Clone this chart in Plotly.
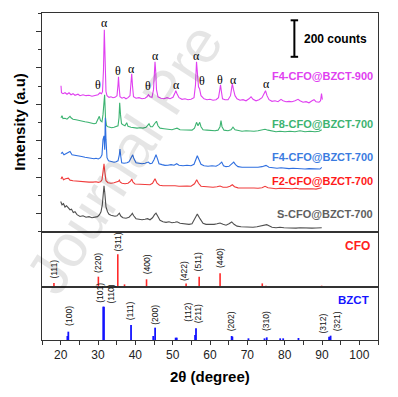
import plotly.graph_objects as go

# ---------------- XRD patterns (2theta in degree, intensity in counts, already offset) -------------
tt_900 = [20.09, 20.22, 20.63, 21.16, 21.70, 22.23, 22.77, 23.30, 23.84, 24.64, 25.18, 25.98, 26.79, 27.59, 28.39, 29.20, 30.00, 30.54, 30.94, 31.21, 31.47, 31.69, 31.93, 32.14, 32.41, 32.95, 33.48, 34.02, 34.56, 35.09, 35.36, 35.49, 35.63, 35.89, 36.43, 36.97, 37.50, 38.04, 38.57, 38.84, 39.03, 39.24, 39.51, 40.18, 40.98, 41.79, 42.59, 43.13, 43.53, 43.93, 44.47, 44.87, 45.14, 45.27, 45.46, 45.67, 46.07, 46.88, 47.68, 48.49, 49.29, 50.09, 50.63, 50.84, 51.16, 51.70, 52.50, 53.31, 54.11, 54.91, 55.72, 56.12, 56.39, 56.66, 56.92, 57.19, 57.59, 58.40, 59.20, 60.00, 60.81, 61.61, 62.28, 62.63, 62.82, 63.03, 63.35, 64.02, 64.83, 65.50, 65.98, 66.30, 66.70, 67.24, 68.04, 68.84, 69.65, 70.45, 70.99, 71.52, 72.33, 73.13, 73.93, 74.47, 74.87, 75.27, 75.81, 76.61, 77.42, 78.22, 79.02, 79.56, 80.36, 81.17, 81.97, 82.77, 83.58, 84.11, 84.92, 85.72, 86.52, 87.33, 87.86, 88.40, 89.20, 89.61, 89.87, 90.09]
i_900 = [701, 663, 658, 663, 655, 663, 652, 658, 649, 655, 647, 652, 647, 649, 644, 647, 652, 663, 658, 669, 789, 1008, 789, 669, 647, 638, 641, 636, 638, 647, 707, 751, 701, 641, 633, 638, 630, 636, 647, 707, 767, 701, 641, 633, 636, 630, 633, 641, 652, 641, 638, 680, 789, 833, 778, 680, 641, 633, 630, 636, 630, 638, 663, 674, 658, 636, 627, 630, 625, 627, 636, 707, 833, 762, 696, 685, 647, 630, 625, 627, 622, 625, 636, 680, 707, 674, 630, 625, 625, 647, 712, 680, 647, 630, 622, 625, 619, 630, 641, 627, 619, 625, 636, 658, 674, 647, 625, 616, 619, 614, 627, 619, 614, 616, 614, 619, 627, 619, 611, 614, 608, 619, 625, 614, 611, 619, 658, 625]

tt_f8 = [20.09, 20.36, 20.63, 21.16, 21.70, 22.23, 22.50, 22.77, 23.30, 24.11, 24.91, 25.72, 26.52, 27.32, 28.13, 28.93, 29.47, 30.00, 30.35, 30.67, 31.07, 31.34, 31.77, 32.01, 32.28, 32.68, 33.22, 33.67, 34.29, 34.82, 35.36, 35.63, 35.81, 36.03, 36.30, 36.70, 37.23, 37.69, 38.04, 38.84, 39.64, 40.45, 41.25, 42.06, 42.86, 43.40, 43.66, 44.06, 44.60, 45.14, 45.67, 46.07, 46.61, 47.68, 48.75, 49.82, 50.63, 51.16, 51.97, 53.04, 54.11, 55.18, 55.85, 56.39, 56.79, 57.25, 57.59, 58.13, 59.20, 60.27, 61.34, 62.15, 62.68, 62.95, 63.22, 63.75, 64.83, 65.63, 66.16, 66.70, 67.50, 68.58, 69.65, 70.72, 71.79, 72.86, 73.93, 74.74, 75.54, 76.61, 77.68, 78.75, 80.09, 81.43, 82.77, 84.11, 85.45, 86.79, 88.13, 89.20, 89.93]
i_f8 = [526, 537, 521, 523, 518, 532, 534, 526, 518, 515, 510, 507, 504, 501, 499, 493, 496, 515, 534, 510, 504, 543, 652, 526, 482, 477, 474, 471, 474, 477, 482, 526, 608, 543, 493, 488, 482, 499, 479, 474, 471, 469, 471, 469, 474, 485, 493, 477, 477, 493, 507, 482, 469, 466, 463, 460, 466, 469, 460, 458, 460, 458, 469, 501, 482, 501, 477, 460, 458, 455, 455, 458, 477, 510, 477, 458, 455, 460, 474, 460, 455, 452, 455, 452, 452, 455, 458, 463, 458, 452, 449, 452, 449, 452, 449, 455, 449, 452, 449, 452, 460]

tt_f4 = [20.09, 20.44, 20.89, 21.43, 21.96, 22.50, 23.04, 23.84, 24.64, 25.63, 26.52, 27.32, 28.13, 28.93, 29.47, 30.08, 30.67, 31.07, 31.34, 31.61, 31.80, 31.96, 32.14, 32.41, 32.81, 33.22, 33.75, 34.29, 34.82, 35.36, 35.71, 35.89, 36.08, 36.35, 36.97, 37.77, 38.31, 38.84, 39.30, 39.64, 40.18, 40.98, 41.79, 42.59, 43.13, 43.48, 43.93, 44.47, 45.00, 45.54, 45.94, 46.34, 47.15, 47.95, 48.75, 49.56, 50.36, 51.08, 51.70, 52.77, 53.84, 54.91, 55.72, 56.12, 56.60, 57.06, 57.59, 58.40, 59.47, 60.54, 61.61, 62.41, 63.14, 63.62, 64.29, 65.09, 65.76, 66.35, 66.83, 67.50, 68.58, 69.65, 70.72, 71.79, 72.86, 73.93, 75.00, 75.81, 76.88, 77.95, 79.02, 80.09, 81.17, 82.24, 83.31, 84.38, 85.45, 86.52, 87.60, 88.67, 89.47, 89.93]
i_f4 = [329, 336, 323, 329, 334, 341, 323, 321, 318, 314, 310, 307, 304, 301, 304, 300, 307, 323, 406, 427, 351, 526, 406, 307, 290, 287, 285, 282, 285, 290, 323, 355, 318, 279, 277, 279, 285, 307, 323, 301, 279, 277, 274, 277, 279, 283, 274, 277, 296, 323, 301, 274, 269, 265, 266, 269, 266, 274, 266, 263, 266, 263, 271, 296, 318, 296, 271, 263, 260, 263, 260, 269, 283, 263, 258, 260, 271, 283, 269, 258, 255, 254, 255, 252, 255, 258, 265, 255, 252, 249, 252, 249, 247, 249, 247, 249, 245, 247, 245, 247, 245, 254]

tt_f2 = [20.09, 20.36, 20.76, 21.30, 22.05, 22.50, 23.30, 24.38, 25.45, 26.52, 27.59, 28.66, 29.47, 30.08, 30.67, 31.07, 31.39, 31.61, 31.82, 32.14, 32.68, 33.48, 34.29, 35.09, 35.49, 35.71, 35.97, 36.43, 37.23, 38.04, 38.71, 39.03, 39.38, 39.91, 40.72, 41.52, 42.32, 43.13, 43.93, 44.60, 45.27, 45.81, 46.48, 47.41, 48.49, 49.56, 50.63, 51.70, 52.77, 53.84, 54.91, 55.85, 56.44, 56.92, 57.59, 58.66, 59.74, 60.81, 61.88, 62.68, 63.49, 64.56, 65.36, 65.98, 66.57, 67.50, 68.58, 69.65, 70.72, 71.79, 72.86, 73.93, 74.74, 75.54, 76.61, 77.68, 78.75, 79.82, 80.90, 81.97, 83.04, 84.11, 85.18, 86.25, 87.33, 88.40, 89.47, 89.93]
i_f2 = [190, 203, 186, 192, 195, 184, 181, 178, 175, 175, 173, 173, 175, 172, 175, 186, 230, 274, 230, 181, 170, 167, 170, 173, 178, 184, 173, 167, 164, 167, 178, 190, 173, 163, 162, 164, 162, 163, 159, 167, 192, 167, 156, 153, 153, 156, 153, 151, 153, 152, 151, 164, 186, 167, 151, 148, 148, 145, 148, 152, 145, 145, 151, 159, 148, 142, 141, 142, 140, 141, 140, 142, 150, 142, 140, 137, 140, 137, 138, 137, 140, 136, 137, 135, 137, 135, 137, 142]

tt_s = [20.01, 20.36, 20.76, 21.16, 21.56, 22.05, 22.50, 22.90, 23.38, 23.84, 24.38, 25.18, 25.98, 26.79, 27.59, 28.39, 29.20, 29.87, 30.40, 30.80, 31.15, 31.39, 31.61, 31.82, 32.14, 32.55, 32.95, 33.48, 34.02, 34.56, 35.09, 35.71, 36.16, 36.70, 37.50, 38.31, 38.84, 39.19, 39.56, 40.18, 40.98, 41.79, 42.59, 43.26, 43.93, 44.60, 45.14, 45.54, 45.94, 46.61, 47.41, 48.22, 49.02, 49.82, 50.63, 51.16, 51.97, 52.77, 53.57, 54.38, 55.18, 55.85, 56.60, 57.32, 58.13, 58.93, 60.00, 61.08, 61.88, 62.68, 63.49, 64.29, 65.09, 65.82, 66.43, 67.24, 68.31, 69.38, 70.45, 71.52, 72.59, 73.67, 74.47, 75.19, 75.81, 76.61, 77.68, 78.75, 79.82, 80.90, 81.97, 83.04, 84.11, 85.18, 86.25, 87.33, 88.40, 89.47, 89.93]
i_s = [67, 49, 55, 37, 44, 31, 22, 25, 7, 11, -5, -15, -11, -19, -16, -22, -19, -16, -5, 11, 49, 115, 153, 115, 38, 11, -3, -8, -11, -14, -11, 3, -14, -22, -25, -19, -8, 2, -11, -27, -30, -33, -30, -27, -33, -22, -5, 3, -11, -36, -44, -47, -44, -49, -47, -44, -52, -55, -55, -58, -55, -33, -2, -27, -52, -58, -60, -58, -55, -51, -58, -63, -55, -45, -58, -68, -71, -73, -71, -74, -71, -68, -63, -60, -66, -74, -77, -74, -77, -78, -77, -79, -77, -79, -78, -79, -78, -79, -77]

series_names = ["F4-CFO@BZCT-900", "F8-CFO@BZCT-700", "F4-CFO@BZCT-700", "F2-CFO@BZCT-700", "S-CFO@BZCT-700"]
series_label_y = [756, 493, 312, 181, 0]

# peak phase markers on the 900 pattern
mark_text = ["α", "θ", "θ", "α", "θ", "α", "α", "α", "θ", "θ", "α", "α"]
mark_x = [31.69, 29.92, 35.44, 39.03, 43.31, 45.46, 50.90, 56.44, 57.78, 62.68, 66.25, 75.19]
mark_y = [1045, 707, 780, 795, 701, 862, 707, 862, 729, 734, 734, 711]

# ---------------- reference patterns (relative intensity) ----------------
cfo_x = [18.2, 30.1, 35.3, 37.1, 43.0, 53.6, 57.1, 62.7, 65.8, 70.9, 74.0, 75.0, 78.9, 82.0, 87.0, 89.9, 94.6]
cfo_h = [12, 31.5, 100, 8, 23.5, 11, 31.5, 42, 3, 3, 11, 4, 3, 3, 3, 4, 3]
cfo_lab = ["(111)", "(220)", "(311)", "(400)", "(422)", "(511)", "(440)"]
cfo_lab_x = [18.2, 30.0, 35.3, 43.0, 53.1, 56.8, 62.7]
cfo_lab_y = [21, 37, 103, 31, 13, 40, 52]

bzct_x = [21.8, 22.05, 31.4, 31.6, 38.85, 44.8, 45.3, 50.8, 51.1, 56.0, 56.25, 65.8, 66.0, 70.3, 74.6, 75.2, 78.8, 79.6, 83.7, 91.9, 92.3]
bzct_h = [12, 25, 100, 100, 45, 12, 37, 7, 7, 15, 35, 12, 10, 5, 5, 8, 5, 5, 6, 10, 13]
bzct_lab = ["(100)", "(101)", "(110)", "(111)", "(200)", "(112)", "(211)", "(202)", "(310)", "(312)", "(321)"]
bzct_lab_x = [22.2, 30.5, 33.5, 38.6, 45.3, 54.2, 57.0, 65.6, 75.2, 90.4, 94.0]
bzct_lab_y = [36, 105, 102, 52, 40, 48, 45, 20, 20, 15, 20]

x_ticks = [20, 30, 40, 50, 60, 70, 80, 90, 100]

scale_bar_x = 82.6
scale_bar_low, scale_bar_high = 860, 1060

# ---------------- styling ----------------
colors = ["#e040f0", "#3cb371", "#2f6fe0", "#f03c3c", "#505050"]
label_colors = ["#e040f0", "#3cb371", "#3a7be0", "#ff1a1a", "#606060"]
AX = "#333333"
SANS = "Liberation Sans, Arial, sans-serif"
SERIF = "Liberation Serif, Times New Roman, serif"

fig = go.Figure()
patterns = [(tt_900, i_900), (tt_f8, i_f8), (tt_f4, i_f4), (tt_f2, i_f2), (tt_s, i_s)]
for (xs, ys), c in zip(patterns, colors):
    fig.add_trace(go.Scatter(x=xs, y=ys, mode="lines", line=dict(color=c, width=1.1),
                             xaxis="x", yaxis="y", hoverinfo="skip"))

def sticks(xs, hs):
    sx, sy = [], []
    for a, h in zip(xs, hs):
        sx += [a, a, None]
        sy += [0, h, None]
    return sx, sy

sx, sy = sticks(cfo_x, cfo_h)
fig.add_trace(go.Scatter(x=sx, y=sy, mode="lines", line=dict(color="#ff2a2a", width=1.6),
                         xaxis="x2", yaxis="y2", hoverinfo="skip"))
sx, sy = sticks(bzct_x, bzct_h)
fig.add_trace(go.Scatter(x=sx, y=sy, mode="lines", line=dict(color="#1414ff", width=1.8),
                         xaxis="x3", yaxis="y3", hoverinfo="skip"))

# scale bar
fig.add_trace(go.Scatter(x=[scale_bar_x, scale_bar_x], y=[scale_bar_low, scale_bar_high], mode="lines",
                         line=dict(color="black", width=2), xaxis="x", yaxis="y", hoverinfo="skip"))
for yy in (scale_bar_low, scale_bar_high):
    fig.add_trace(go.Scatter(x=[scale_bar_x - 1.0, scale_bar_x + 1.0], y=[yy, yy], mode="lines",
                             line=dict(color="black", width=2), xaxis="x", yaxis="y", hoverinfo="skip"))

ann = []
# watermark
ann.append(dict(text="Journal Pre", xref="paper", yref="paper", x=0.245, y=0.555,
                xanchor="center", yanchor="middle", showarrow=False, textangle=-57,
                font=dict(family=SANS, size=60, color="rgba(0,0,0,0.1)")))
ann.append(dict(text="<b>200 counts</b>", x=scale_bar_x + 2.0, y=(scale_bar_low + scale_bar_high) / 2,
                xref="x", yref="y", xanchor="left", yanchor="middle", showarrow=False,
                font=dict(family=SANS, size=12, color="black")))
for name, yy, c in zip(series_names, series_label_y, label_colors):
    ann.append(dict(text="<b>%s</b>" % name, x=104.2, y=yy, xref="x", yref="y", xanchor="right",
                    yanchor="middle", showarrow=False, font=dict(family=SANS, size=11, color=c)))
for t, xx, yy in zip(mark_text, mark_x, mark_y):
    ann.append(dict(text=t, x=xx, y=yy, xref="x", yref="y", xanchor="center", yanchor="middle",
                    showarrow=False, font=dict(family=SERIF, size=12, color="black")))
for t, xx, yy in zip(cfo_lab, cfo_lab_x, cfo_lab_y):
    ann.append(dict(text=t, x=xx, y=yy, xref="x2", yref="y2", xanchor="center", yanchor="bottom",
                    textangle=-90, showarrow=False, font=dict(family=SANS, size=8.5, color="#111")))
for t, xx, yy in zip(bzct_lab, bzct_lab_x, bzct_lab_y):
    ann.append(dict(text=t, x=xx, y=yy, xref="x3", yref="y3", xanchor="center", yanchor="bottom",
                    textangle=-90, showarrow=False, font=dict(family=SANS, size=8.5, color="#111")))
ann.append(dict(text="<b>CFO</b>", x=103.3, y=126, xref="x2", yref="y2", xanchor="right", yanchor="middle",
                showarrow=False, font=dict(family=SANS, size=12, color="#ff2020")))
ann.append(dict(text="<b>BZCT</b>", x=103.0, y=120, xref="x3", yref="y3", xanchor="right", yanchor="middle",
                showarrow=False, font=dict(family=SANS, size=11.5, color="#1414ff")))
ann.append(dict(text="<b>2θ (degree)</b>", x=0.5, y=-0.113, xref="paper", yref="paper", xanchor="center",
                yanchor="middle", showarrow=False, font=dict(family=SANS, size=15, color="black")))
ann.append(dict(text="<b>Intensity (a.u)</b>", x=-0.066, y=0.667, xref="paper", yref="paper",
                xanchor="center", yanchor="middle", textangle=-90, showarrow=False,
                font=dict(family=SANS, size=15, color="black")))

common_x = dict(range=[15, 105], showline=True, mirror=True, linecolor=AX, linewidth=1,
                showgrid=False, zeroline=False, domain=[0, 1])
common_y = dict(showline=True, mirror=True, linecolor=AX, linewidth=1, showgrid=False, zeroline=False)

# the page body has an 8 px margin; the figure is sized so the plot frame lands where the reference has it
fig.update_layout(
    width=390, height=389, margin=dict(l=34, r=20, t=5, b=57),
    paper_bgcolor="white", plot_bgcolor="white", showlegend=False,
    xaxis=dict(**common_x, anchor="y", showticklabels=False, ticks=""),
    yaxis=dict(**common_y, domain=[0.3303, 1], range=[-100, 1100], anchor="x", ticks="outside",
               ticklen=5, tickwidth=1, tickcolor=AX, tick0=0, dtick=200, showticklabels=False,
               minor=dict(ticks="outside", ticklen=3, tickcolor=AX, tick0=0, dtick=100)),
    xaxis2=dict(**common_x, anchor="y2", showticklabels=False, ticks=""),
    yaxis2=dict(**common_y, domain=[0.1621, 0.3303], range=[0, 168], anchor="x2", ticks="",
                showticklabels=False),
    xaxis3=dict(**common_x, anchor="y3", ticks="outside", ticklen=4, tickwidth=1, tickcolor=AX,
                tickvals=x_ticks, ticktext=[str(v) for v in x_ticks],
                tickfont=dict(family=SANS, size=12, color="#222"),
                minor=dict(ticks="outside", ticklen=4, tickcolor=AX, tick0=15, dtick=5)),
    yaxis3=dict(**common_y, domain=[0, 0.1621], range=[0, 159], anchor="x3", ticks="",
                showticklabels=False),
    annotations=ann,
)

fig.write_html("out.html")
